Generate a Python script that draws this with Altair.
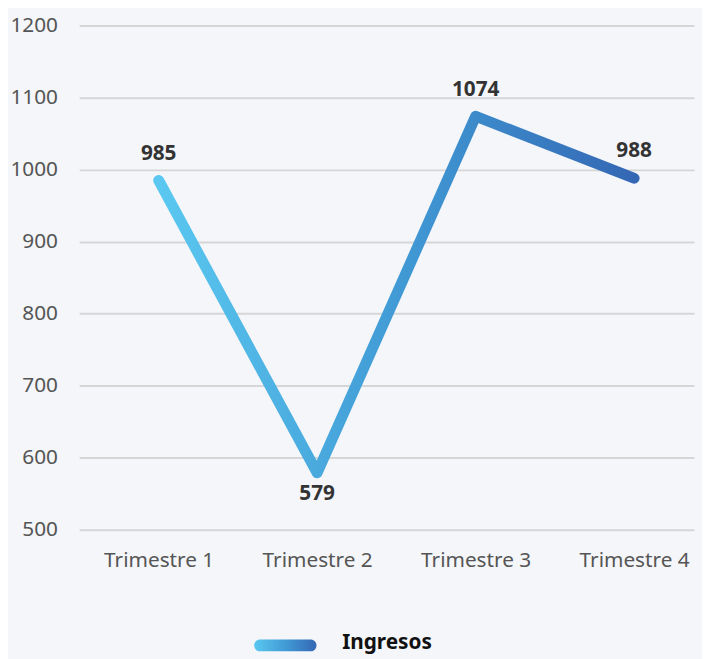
import altair as alt
import pandas as pd

categories = ["Trimestre 1", "Trimestre 2", "Trimestre 3", "Trimestre 4"]
values = [985, 579, 1074, 988]
series_name = "Ingresos"
y_ticks = [500, 600, 700, 800, 900, 1000, 1100, 1200]

df = pd.DataFrame({"trimestre": categories, "valor": values})
min_val = min(values)

FONT = "Noto Sans"
grad = alt.Gradient(
    gradient="linear",
    stops=[alt.GradientStop(color="#5ac8f0", offset=0),
           alt.GradientStop(color="#3f96d2", offset=0.55),
           alt.GradientStop(color="#3467b4", offset=1)],
    x1=0, x2=1, y1=0, y2=0,
)

x = alt.X("trimestre:N", sort=categories, title=None,
          scale=alt.Scale(type="point", padding=0.44, align=0.57),
          axis=alt.Axis(labelAngle=0, domain=False, ticks=False, grid=False,
                        labelPadding=20, labelFontSize=21, labelColor="#555555",
                        labelFont=FONT))
y = alt.Y("valor:Q", title=None,
          scale=alt.Scale(domain=[500, 1200], nice=False, zero=False),
          axis=alt.Axis(values=y_ticks, format="d", domain=False, ticks=False,
                        grid=True, gridColor="#d6d6d6", gridWidth=2,
                        labelPadding=22, labelFontSize=21, labelColor="#555555",
                        labelFont=FONT))

base = alt.Chart(df)

line = base.mark_line(stroke=grad, strokeWidth=11, strokeCap="round",
                      strokeJoin="round").encode(x=x, y=y)

labels_up = base.transform_filter(alt.datum.valor > min_val).mark_text(
    baseline="bottom", dy=-17, fontSize=21, fontWeight="bold", color="#333333",
    font=FONT).encode(x=x, y=y, text="valor:Q")
labels_down = base.transform_filter(alt.datum.valor <= min_val).mark_text(
    baseline="top", dy=10, fontSize=21, fontWeight="bold", color="#333333",
    font=FONT).encode(x=x, y=y, text="valor:Q")

legend_df = pd.DataFrame({"name": [series_name]})
legend_sym = alt.Chart(legend_df).mark_rect(fill=grad, cornerRadius=6).encode(
    x=alt.value(177), x2=alt.value(240), y=alt.value(621), y2=alt.value(633))
legend_txt = alt.Chart(legend_df).mark_text(
    align="left", baseline="middle", fontSize=21, fontWeight="bold",
    color="#111111", font=FONT).encode(
    x=alt.value(266), y=alt.value(625), text="name:N")

chart = alt.layer(line, labels_up, labels_down, legend_sym, legend_txt).properties(
    width=622, height=510,
    autosize=alt.AutoSizeParams(type="none"),
    padding={"left": 72, "top": 14, "right": 8, "bottom": 127},
    background="#f4f6f9",
).configure_view(stroke=None, fill="#f4f6fa")

chart.save("out.html", embed_options={"renderer": "svg", "actions": False})
